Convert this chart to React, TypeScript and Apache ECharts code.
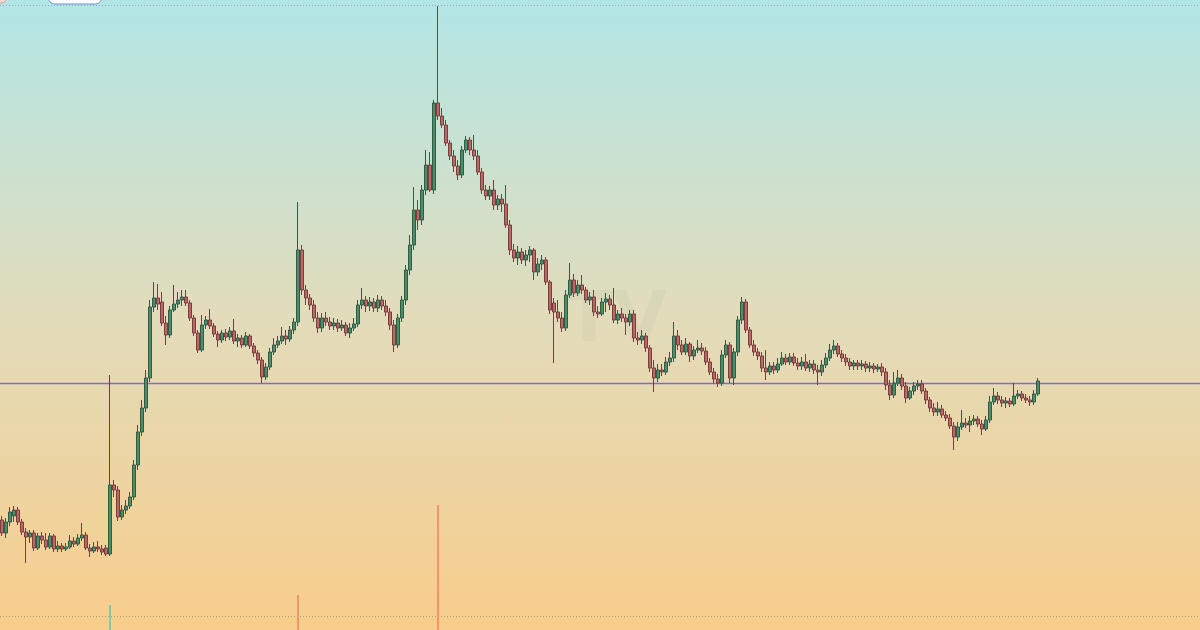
import React, { useEffect, useRef } from "react";
import * as echarts from "echarts";

// Candles: [open, close, low, high]
const candles: number[][] = [
  [110,97,94,114],[97,108,92,112],[108,118,104,123],[114,120,108,124],[120,108,105,123],
  [108,98,95,111],[98,93,67,102],[93,97,87,100],[97,82,79,100],[82,94,80,97],
  [94,90,86,98],[90,83,80,97],[83,94,81,97],[94,81,78,96],[81,84,78,89],
  [84,81,78,87],[81,83,79,87],[83,89,81,95],[89,86,83,93],[86,92,84,96],
  [92,95,89,107],[95,82,80,98],[82,79,73,86],[79,83,77,88],[83,81,78,89],
  [81,78,75,85],[82,76,74,85],[76,145,74,255],[145,140,133,150],[140,113,109,144],
  [113,120,110,125],[120,124,116,130],[124,133,121,138],[133,165,130,170],[165,198,160,205],
  [198,222,194,230],[222,252,218,260],[252,323,248,330],[323,332,318,348],[332,326,320,346],
  [328,307,304,338],[307,295,285,314],[295,320,292,324],[320,326,318,345],[326,330,322,338],
  [330,333,324,340],[333,327,324,340],[327,312,309,330],[312,297,294,315],[297,280,277,300],
  [280,305,278,315],[305,310,301,314],[310,304,301,321],[304,296,293,307],[296,290,283,299],
  [290,297,287,300],[297,293,289,301],[293,299,290,303],[299,289,286,311],[289,292,283,296],
  [292,285,282,295],[285,294,283,298],[294,284,281,296],[284,277,273,287],[277,270,266,280],
  [270,253,247,273],[253,263,250,267],[263,278,260,282],[278,285,275,292],[285,289,282,294],
  [289,294,286,303],[294,291,285,300],[291,300,288,304],[300,308,296,312],[308,380,304,428],
  [380,340,335,385],[340,332,325,345],[332,325,320,336],[325,312,308,330],[312,302,297,318],
  [302,312,298,317],[312,308,304,318],[308,304,300,313],[304,307,300,312],[307,302,298,311],
  [302,305,299,310],[305,297,294,308],[297,302,292,307],[302,306,299,312],[306,325,303,330],
  [325,330,321,342],[330,324,318,334],[324,328,319,333],[328,322,318,332],[322,330,318,335],
  [330,324,320,334],[324,318,314,330],[318,305,300,322],[305,285,278,310],[285,312,282,316],
  [312,330,308,334],[330,360,325,365],[360,385,355,395],[385,420,380,443],[420,410,400,430],
  [410,440,405,445],[440,465,435,480],[465,440,438,478],[440,527,436,530],[527,514,510,624],
  [514,505,502,522],[505,487,484,510],[487,474,470,490],[474,464,458,480],[464,455,450,470],
  [455,480,452,484],[480,490,477,494],[490,480,475,493],[480,474,470,495],[474,458,455,480],
  [458,440,436,462],[440,434,430,445],[434,440,430,444],[440,425,420,450],[425,431,420,435],
  [431,426,418,436],[426,405,402,445],[405,380,375,410],[380,372,368,386],[372,378,365,384],
  [378,370,366,382],[370,375,364,380],[375,380,368,384],[380,358,350,382],[358,366,354,372],
  [366,370,360,375],[370,348,345,373],[348,320,316,350],[327,318,267,332],[318,312,308,330],
  [312,302,298,318],[302,335,299,340],[335,350,332,367],[350,337,333,356],[337,345,334,350],
  [345,340,336,355],[340,330,327,343],[330,333,325,338],[333,318,314,340],[318,316,312,324],
  [316,328,314,332],[328,331,318,337],[331,325,320,335],[325,310,307,342],[310,316,306,320],
  [316,312,308,322],[312,308,295,316],[308,316,304,320],[316,292,288,320],[292,290,285,298],
  [290,294,286,300],[294,282,278,297],[282,262,258,285],[262,252,238,270],[252,260,248,266],
  [260,258,254,266],[258,268,255,273],[268,272,264,278],[272,294,268,308],[294,285,280,300],
  [285,278,275,290],[278,286,275,292],[286,274,268,288],[274,280,270,284],[280,282,277,290],
  [282,279,275,287],[279,268,265,283],[268,258,255,272],[258,251,247,262],[251,247,243,256],
  [247,275,244,280],[275,285,272,290],[285,252,247,288],[252,278,245,282],[278,310,274,314],
  [310,328,306,333],[328,300,297,331],[300,285,282,303],[285,278,274,290],[278,274,270,282],
  [274,262,258,278],[262,258,250,280],[258,264,255,268],[264,260,256,268],[260,266,257,272],
  [266,272,264,278],[272,268,265,276],[268,273,265,277],[273,267,264,277],[267,264,260,272],
  [264,268,260,273],[268,262,259,276],[262,266,258,270],[266,260,256,270],[260,258,245,265],
  [258,265,254,270],[265,272,262,277],[272,280,269,286],[280,284,276,290],[284,276,273,287],
  [276,272,268,280],[272,268,264,276],[268,264,260,272],[264,267,260,270],[267,264,260,270],
  [264,266,260,270],[266,262,258,269],[262,264,258,268],[264,261,257,267],[261,263,258,266],
  [263,258,254,267],[258,245,240,262],[245,235,230,250],[235,247,232,258],[247,252,244,260],
  [252,244,240,256],[244,232,227,248],[232,239,230,243],[239,244,235,248],[244,246,240,250],
  [246,239,236,250],[239,230,226,242],[230,222,218,233],[222,218,214,227],[218,221,214,228],
  [221,215,212,225],[215,212,209,219],[212,204,201,216],[204,193,180,208],[193,203,189,208],
  [203,207,200,220],[207,205,202,212],[205,209,198,214],[209,211,205,215],[211,206,203,214],
  [206,201,195,210],[201,210,199,214],[210,228,207,234],[228,234,225,242],[234,230,226,238],
  [230,227,223,234],[227,229,222,233],[229,226,223,232],[226,234,224,247],[234,236,231,240],
  [236,232,229,239],[232,230,227,236],[230,228,224,234],[228,236,225,240],[236,249,234,252],
];

// Empty slots kept to the right of the last candle
const RIGHT_PADDING_BARS = 40;

// Volume spikes (others are negligible)
const volIndex = [27, 74, 109];
const volValue = [250, 350, 1250];
const volUp = [true, false, false];

// Horizontal price level line
const priceLevel = 247;

const UP_FILL = "#4f8c69";
const UP_BORDER = "#2f5c44";
const DOWN_FILL = "#bd6764";
const DOWN_BORDER = "#763f3e";

export default function App() {
  const ref = useRef<HTMLDivElement>(null);

  useEffect(() => {
    if (!ref.current) return;
    const chart = echarts.init(ref.current, undefined, { renderer: "svg" });
    const total = candles.length + RIGHT_PADDING_BARS;
    const categories = Array.from({ length: total }, (_, i) => String(i + 1));

    const volData = volIndex.map((idx, k) => ({
      value: [idx, volValue[k]],
      itemStyle: { color: volUp[k] ? "#86c9a2" : "#f0956c" },
    }));

    const baseGraphic: any[] = [
      {
        type: "text",
        left: 565,
        top: 282,
        z: 0,
        style: {
          text: "TV",
          font: "bold 70px 'DejaVu Sans'",
          fill: "rgba(120,120,120,0.06)",
        },
      },
      {
        type: "line",
        z: 1,
        shape: { x1: 0, y1: 5.5, x2: 1200, y2: 5.5 },
        style: { stroke: "#8fb0b8", lineWidth: 1, lineDash: [1, 2] },
      },
      {
        type: "line",
        z: 1,
        shape: { x1: 0, y1: 616.5, x2: 1200, y2: 616.5 },
        style: { stroke: "#b39c7a", lineWidth: 1, lineDash: [1, 2] },
      },
      {
        type: "rect",
        z: 10,
        shape: { x: -12, y: -20, width: 19, height: 23, r: 6 },
        style: { fill: "#f6d6d6", stroke: "#e0a0a0", lineWidth: 1 },
      },
      {
        type: "rect",
        z: 10,
        shape: { x: 48.5, y: -20, width: 53, height: 24, r: 6 },
        style: { fill: "#ffffff", stroke: "#6d93d8", lineWidth: 1 },
      },
    ];

    chart.setOption({
      animation: false,
      backgroundColor: new echarts.graphic.LinearGradient(0, 0, 0, 1, [
        { offset: 0, color: "#b2e6e6" },
        { offset: 0.5, color: "#e2dcbb" },
        { offset: 1, color: "#f8cd8b" },
      ]),
      grid: [
        { left: 0, right: 0, top: 0, bottom: 0 },
        { left: 0, right: 0, bottom: 0, height: 150 },
      ],
      xAxis: [
        { type: "category", data: categories, gridIndex: 0, show: false, boundaryGap: true },
        { type: "category", data: categories, gridIndex: 1, show: false, boundaryGap: true },
      ],
      yAxis: [
        { type: "value", min: 0, max: 630, gridIndex: 0, show: false, splitLine: { show: false } },
        { type: "value", min: 0, max: 1500, gridIndex: 1, show: false, splitLine: { show: false } },
      ],
      graphic: baseGraphic,
      series: [
        {
          type: "candlestick",
          xAxisIndex: 0,
          yAxisIndex: 0,
          data: candles,
          barWidth: 3,
          itemStyle: {
            color: UP_FILL,
            color0: DOWN_FILL,
            borderColor: UP_BORDER,
            borderColor0: DOWN_BORDER,
            borderWidth: 1,
          },
          z: 3,
        },
        {
          type: "bar",
          xAxisIndex: 1,
          yAxisIndex: 1,
          data: volData,
          barWidth: 2,
          z: 2,
        },
      ],
    });

    const levelY = Math.round(chart.convertToPixel({ yAxisIndex: 0 }, priceLevel) as number) + 0.5;
    chart.setOption({
      graphic: [
        ...baseGraphic,
        {
          type: "line",
          z: 2,
          silent: true,
          shape: { x1: 0, y1: levelY, x2: 1200, y2: levelY },
          style: { stroke: "#7f6ad6", lineWidth: 1.3 },
        },
      ],
    });

    return () => chart.dispose();
  }, []);

  return (
    <div
      ref={ref}
      style={{ position: "fixed", left: 0, top: 0, width: 1200, height: 630 }}
    />
  );
}
